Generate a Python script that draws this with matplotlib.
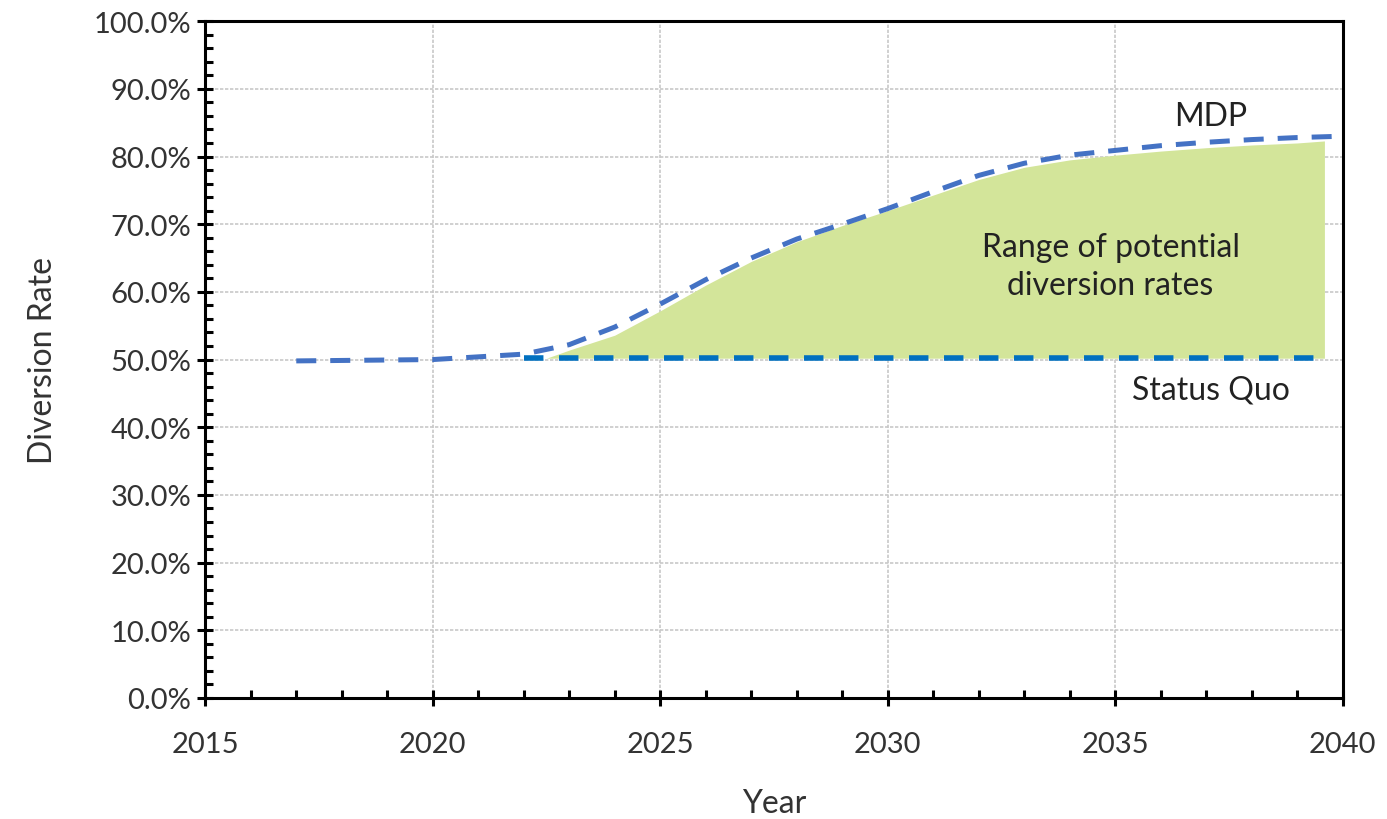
import numpy as np
import matplotlib.pyplot as plt
from matplotlib.ticker import MultipleLocator, PercentFormatter

plt.rcParams['font.family'] = ['Lato', 'DejaVu Sans']

# MDP curve
mdp_year = [2017, 2020, 2022, 2023, 2024, 2025, 2026, 2027, 2028, 2029, 2030,
            2031, 2032, 2033, 2034, 2035, 2036, 2037, 2038, 2039, 2040]
mdp_rate = [49.8, 50.0, 50.8, 52.2, 54.8, 58.2, 61.8, 65.0, 67.8, 70.0, 72.3,
            74.8, 77.2, 79.0, 80.2, 80.9, 81.6, 82.1, 82.5, 82.8, 83.0]

# status quo
sq_year = [2022, 2039.5]
sq_rate = [50.2, 50.2]

# upper edge of the shaded range
band_year = [2022.5, 2023, 2024, 2025, 2026, 2027, 2028, 2029, 2030, 2031,
             2032, 2033, 2034, 2035, 2036, 2037, 2038, 2039, 2039.6]
band_top = [50.2, 51.4, 53.6, 57.2, 61.0, 64.5, 67.4, 69.8, 72.0, 74.3,
            76.6, 78.4, 79.5, 80.2, 80.8, 81.3, 81.7, 82.0, 82.3]

fig = plt.figure(figsize=(13.87, 8.2), dpi=100)
ax = fig.add_axes([0.148, 0.1476, 0.82, 0.8254])

ax.fill_between(band_year, [50.2] * len(band_year), band_top,
                color='#D3E59A', lw=0, zorder=2)
ax.plot(sq_year, sq_rate, color='#0070C0', lw=4, ls=(0, (3.5, 2.8)), zorder=3)
ax.plot(mdp_year, mdp_rate, color='#4472C4', lw=3.6, ls=(0, (4.0, 2.8)),
        zorder=4, clip_on=False)

ax.set_xlim(2015, 2040)
ax.set_ylim(0, 100)
ax.xaxis.set_major_locator(MultipleLocator(5))
ax.xaxis.set_minor_locator(MultipleLocator(1))
ax.yaxis.set_major_locator(MultipleLocator(10))
ax.yaxis.set_minor_locator(MultipleLocator(2))
ax.yaxis.set_major_formatter(PercentFormatter(decimals=1))

ax.grid(True, which='major', color='#C8C8C8', ls=(0, (2, 1)), lw=1.2, zorder=0)
ax.set_axisbelow(True)
for s in ax.spines.values():
    s.set_linewidth(2.2)
    s.set_color('black')

ax.tick_params(which='major', direction='inout', length=12, width=2.2,
               labelsize=21, colors='black', labelcolor='#333333', pad=4)
ax.tick_params(which='minor', direction='in', length=6, width=2.2)
ax.tick_params(axis='x', which='major', pad=18)
ax.tick_params(top=False, right=False, which='both')

ax.set_xlabel('Year', fontsize=23, color='#333333', labelpad=22)
ax.set_ylabel('Diversion Rate', fontsize=23, color='#333333', labelpad=26)

ax.text(2037.1, 86.0, 'MDP', fontsize=23, ha='center', va='center', color='#222222')
ax.text(2034.9, 63.8, 'Range of potential\ndiversion rates', fontsize=23,
        ha='center', va='center', color='#222222', linespacing=1.35)
ax.text(2037.1, 45.6, 'Status Quo', fontsize=23, ha='center', va='center', color='#222222')

fig.savefig('out.png', dpi=100)
